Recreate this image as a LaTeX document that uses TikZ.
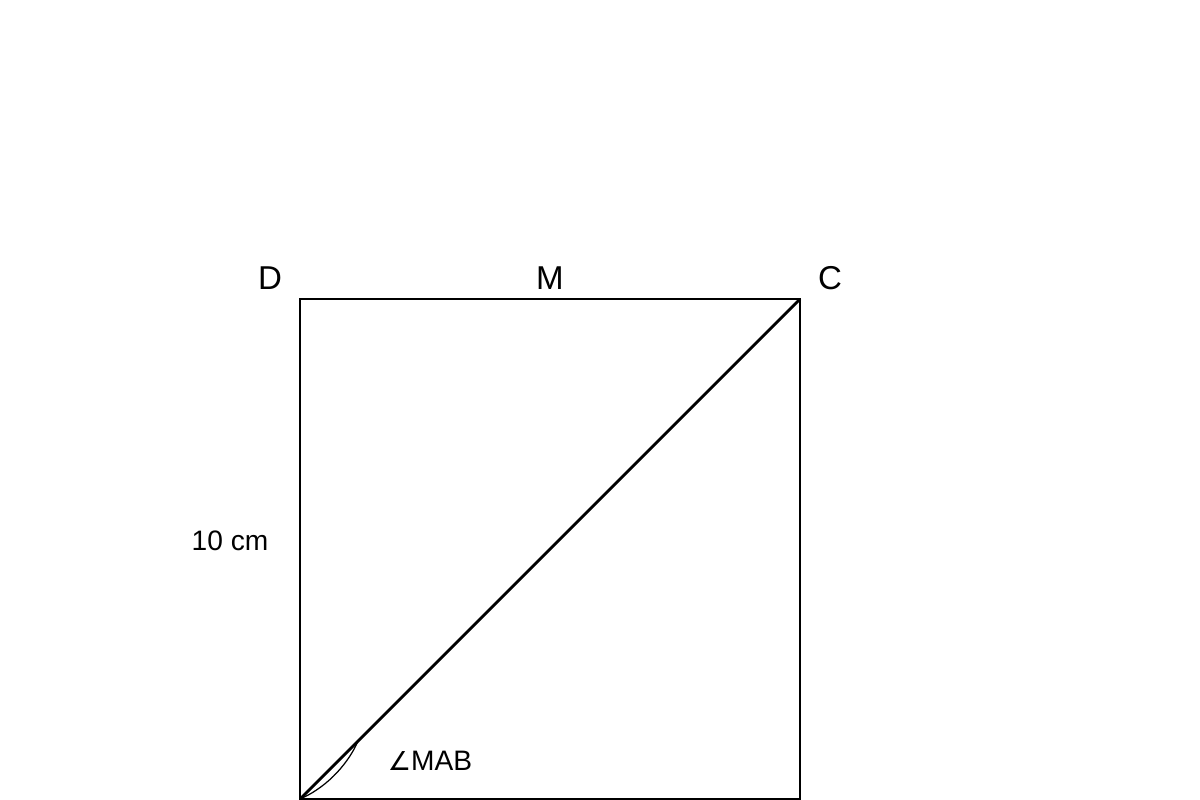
\documentclass[tikz,border=0pt]{standalone}
\usepackage{fontspec}
\setmainfont{Liberation Sans}
\newfontfamily\symfont{DejaVu Sans}
\begin{document}
\begin{tikzpicture}[x=0.01cm,y=-0.01cm,
  edge/.style={line width=0.8pt},
  thin arc/.style={line width=0.35pt},
  vlabel/.style={font=\fontsize{9.4}{11}\selectfont, inner sep=0pt},
  slabel/.style={font=\fontsize{8}{9.5}\selectfont, inner sep=0pt}]
\useasboundingbox (0,0) rectangle (1200,800);
\coordinate (A) at (300,799);
\coordinate (B) at (800,799);
\coordinate (C) at (800,299);
\coordinate (D) at (300,299);
\coordinate (P) at (358,741);
\draw[edge, line join=miter] (A) -- (B) -- (C) -- (D) -- cycle;
\draw[edge] (A) -- (C);
\draw[thin arc] (A) .. controls (330,786) and (350,760) .. (P);
\node[vlabel] (lD) at (270,278) {D};
\node[vlabel] (lM) at (550,278) {M};
\node[vlabel] (lC) at (830,278) {C};
\node[slabel] (len) at (230,541) {10 cm};
\node[slabel] (ang) at (430,761) {{\symfont\fontsize{7.4}{9}\selectfont ∠}MAB};
\end{tikzpicture}
\end{document}
